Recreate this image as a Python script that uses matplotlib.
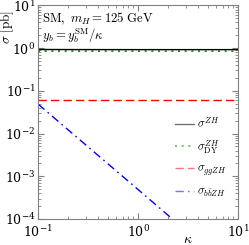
import matplotlib
matplotlib.use("Agg")
import matplotlib.pyplot as plt
from matplotlib.ticker import LogLocator, NullFormatter

plt.rcParams["mathtext.fontset"] = "cm"
plt.rcParams["font.family"] = "serif"
plt.rcParams["font.serif"] = ["DejaVu Serif"]
plt.rcParams["font.size"] = 9

kappa = [0.1, 0.2, 0.5, 1.0, 2.0, 5.0, 10.0]
sigma_total = [0.93, 0.925, 0.923, 0.922, 0.922, 0.922, 0.922]
sigma_dy = [0.86, 0.86, 0.86, 0.86, 0.86, 0.86, 0.86]
sigma_gg = [0.061, 0.061, 0.061, 0.061, 0.061, 0.061, 0.061]
sigma_bb = [4.9e-2, 1.22e-2, 1.96e-3, 4.9e-4, 1.22e-4, 1.96e-5, 4.9e-6]


def main() -> None:
    fig = plt.figure(figsize=(2.49, 2.45), dpi=100)
    ax = fig.add_axes([0.153, 0.106, 0.803, 0.872])

    ax.plot(kappa, sigma_total, color="black", lw=1.0, label=r"$\sigma^{ZH}$")
    ax.plot(kappa, sigma_dy, color="forestgreen", lw=1.5, ls=(0, (1, 2.2)),
            label=r"$\sigma^{ZH}_{\rm DY}$")
    ax.plot(kappa, sigma_gg, color="red", lw=1.0, ls=(0, (6, 3)), label=r"$\sigma_{ggZH}$")
    ax.plot(kappa, sigma_bb, color="blue", lw=1.0, ls=(0, (6, 3, 1.2, 3)),
            label=r"$\sigma_{b\bar{b}ZH}$")

    ax.set_xscale("log")
    ax.set_yscale("log")
    ax.set_xlim(0.1, 10)
    ax.set_ylim(1e-4, 10)

    ax.yaxis.set_major_locator(LogLocator(base=10, numticks=10))
    ax.yaxis.set_minor_locator(LogLocator(base=10, subs=range(2, 10), numticks=20))
    ax.yaxis.set_minor_formatter(NullFormatter())
    ax.tick_params(which="both", direction="in", top=True, right=True, labelsize=9,
                   color="gray")
    ax.tick_params(which="major", length=4, pad=2)
    ax.tick_params(which="minor", length=2)
    ax.tick_params(axis="x", which="major", pad=4)
    for s in ax.spines.values():
        s.set_color("gray")

    ax.set_xlabel(r"$\kappa$", fontsize=10, labelpad=1)
    ax.set_ylabel(r"$\sigma\ [\mathrm{pb}]$", fontsize=9.5, labelpad=0)
    ax.yaxis.set_label_coords(-0.11, 0.9)
    ax.xaxis.set_label_coords(0.75, -0.06)

    ax.text(0.02, 0.975, r"$\mathrm{SM},\ m_H = 125\ \mathrm{GeV}$", transform=ax.transAxes,
            va="top", ha="left", fontsize=9.2)
    ax.text(0.02, 0.9, r"$y_b = y_b^{\rm SM}/\kappa$", transform=ax.transAxes,
            va="top", ha="left", fontsize=9.2)

    leg = ax.legend(loc="lower right", frameon=False, fontsize=8.5, handlelength=1.6,
                    handletextpad=0.2, labelspacing=0.55, borderaxespad=0.6,
                    bbox_to_anchor=(1.0, 0.04))
    for h in leg.legend_handles:
        h.set_alpha(0.55)

    fig.savefig("out.png", dpi=100)
    plt.close(fig)


if __name__ == "__main__":
    main()
